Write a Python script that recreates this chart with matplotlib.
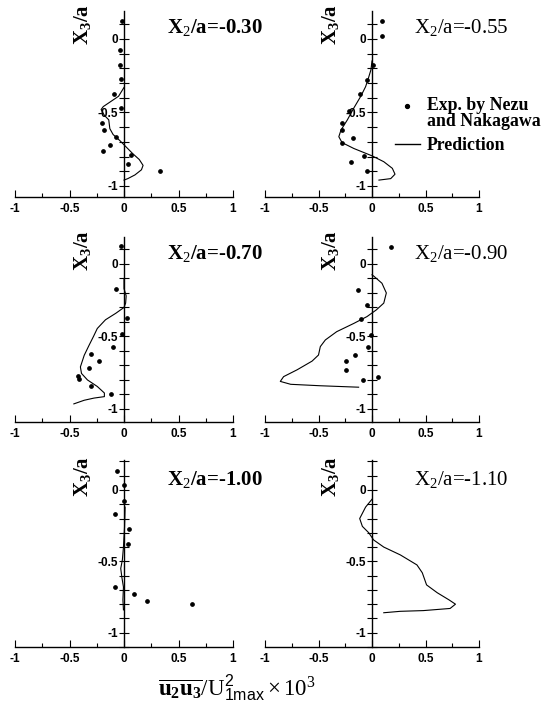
import numpy as np
import matplotlib
matplotlib.use('Agg')
from matplotlib import pyplot as plt
from matplotlib.ticker import MultipleLocator
from matplotlib.lines import Line2D

plt.rcParams['font.family'] = 'Liberation Serif'
plt.rcParams['mathtext.fontset'] = 'custom'
plt.rcParams['mathtext.rm'] = 'Liberation Serif'
plt.rcParams['mathtext.bf'] = 'Liberation Serif:bold'
plt.rcParams['mathtext.sf'] = 'Liberation Sans'
plt.rcParams['mathtext.it'] = 'Liberation Serif:italic'

titles = ['X$_2$/a=-0.30', 'X$_2$/a=-0.55', 'X$_2$/a=-0.70',
          'X$_2$/a=-0.90', 'X$_2$/a=-1.00', 'X$_2$/a=-1.10']

# measured points (Nezu & Nakagawa)
exp_x_030 = [-0.02, -0.04, -0.04, -0.03, -0.09, -0.03, -0.20, -0.18, -0.07, -0.13, -0.195, 0.06, 0.04, 0.33]
exp_y_030 = [0.125, -0.075, -0.18, -0.27, -0.375, -0.47, -0.57, -0.62, -0.67, -0.72, -0.76, -0.79, -0.85, -0.90]
exp_x_055 = [0.09, 0.09, 0.01, -0.045, -0.115, -0.215, -0.28, -0.28, -0.18, -0.28, -0.075, -0.20, -0.05]
exp_y_055 = [0.12, 0.02, -0.18, -0.28, -0.375, -0.49, -0.57, -0.62, -0.675, -0.71, -0.795, -0.84, -0.895]
exp_x_070 = [-0.03, -0.075, 0.03, -0.015, -0.10, -0.30, -0.23, -0.32, -0.42, -0.41, -0.30, -0.12]
exp_y_070 = [0.124, -0.175, -0.375, -0.48, -0.57, -0.62, -0.67, -0.72, -0.77, -0.795, -0.845, -0.90]
exp_x_090 = [0.18, -0.135, -0.047, -0.10, -0.01, -0.04, -0.156, -0.24, -0.24, 0.06, -0.084]
exp_y_090 = [0.115, -0.18, -0.28, -0.38, -0.49, -0.575, -0.63, -0.67, -0.73, -0.777, -0.80]
exp_x_100 = [-0.06, 0.00, 0.00, -0.085, 0.05, 0.035, -0.08, 0.09, 0.21, 0.62]
exp_y_100 = [0.135, 0.035, -0.075, -0.17, -0.275, -0.38, -0.68, -0.73, -0.78, -0.80]
exp_x_110 = []
exp_y_110 = []

# predicted profiles
pred_x_030 = [0.0, -0.05, -0.13, -0.19, -0.21, -0.18, -0.14, -0.13, -0.10, -0.04, 0.0, 0.08, 0.14, 0.175, 0.16, 0.10, 0.035, 0.0]
pred_y_030 = [-0.33, -0.39, -0.43, -0.46, -0.48, -0.52, -0.55, -0.61, -0.65, -0.69, -0.72, -0.78, -0.82, -0.86, -0.89, -0.925, -0.95, -0.96]
pred_x_055 = [0.0, -0.01, -0.035, -0.06, -0.105, -0.17, -0.23, -0.29, -0.31, -0.28, -0.17, 0.0, 0.11, 0.19, 0.215, 0.175, 0.065]
pred_y_055 = [-0.15, -0.21, -0.27, -0.325, -0.39, -0.47, -0.55, -0.62, -0.665, -0.705, -0.745, -0.795, -0.835, -0.88, -0.92, -0.95, -0.96]
pred_x_070 = [0.0, 0.0, 0.02, 0.015, 0.0, -0.075, -0.17, -0.245, -0.28, -0.32, -0.365, -0.40, -0.39, -0.335, -0.245, -0.18, -0.18, -0.275, -0.365, -0.46]
pred_y_070 = [-0.10, -0.17, -0.22, -0.27, -0.30, -0.34, -0.385, -0.445, -0.50, -0.56, -0.63, -0.71, -0.755, -0.80, -0.845, -0.89, -0.915, -0.925, -0.94, -0.965]
pred_x_090 = [0.0, 0.015, 0.093, 0.134, 0.11, 0.04, -0.047, -0.17, -0.33, -0.436, -0.483, -0.50, -0.56, -0.70, -0.826, -0.857, -0.76, -0.483, -0.125]
pred_y_090 = [-0.075, -0.083, -0.133, -0.20, -0.27, -0.317, -0.363, -0.41, -0.467, -0.524, -0.57, -0.628, -0.67, -0.73, -0.777, -0.81, -0.83, -0.84, -0.85]
pred_x_100 = [0.01, 0.005, -0.005, -0.015, -0.03, -0.02, -0.005, -0.01, -0.005]
pred_y_100 = [-0.12, -0.26, -0.40, -0.49, -0.55, -0.61, -0.68, -0.77, -0.84]
pred_x_110 = [0.0, -0.06, -0.115, -0.09, -0.03, 0.015, 0.11, 0.265, 0.42, 0.47, 0.51, 0.61, 0.72, 0.78, 0.73, 0.48, 0.265, 0.11]
pred_y_110 = [-0.065, -0.12, -0.20, -0.255, -0.30, -0.35, -0.40, -0.455, -0.525, -0.58, -0.665, -0.72, -0.77, -0.80, -0.83, -0.845, -0.85, -0.86]

exp_x = [exp_x_030, exp_x_055, exp_x_070, exp_x_090, exp_x_100, exp_x_110]
exp_y = [exp_y_030, exp_y_055, exp_y_070, exp_y_090, exp_y_100, exp_y_110]
pred_x = [pred_x_030, pred_x_055, pred_x_070, pred_x_090, pred_x_100, pred_x_110]
pred_y = [pred_y_030, pred_y_055, pred_y_070, pred_y_090, pred_y_100, pred_y_110]

W, H = 544, 702
fig = plt.figure(figsize=(W / 100, H / 100), dpi=100)

cols = [(15, 233), (265, 479)]
rows = [(11, 197, 0.19, -1.075), (237, 422, 0.186, -1.09), (460, 647, 0.21, -1.10)]

tick_font = dict(family='Liberation Sans', weight='bold', size=8.5)

for i in range(6):
    r, c = divmod(i, 2)
    x0, x1 = cols[c]
    top, bot, ytop, ybot = rows[r]
    ax = fig.add_axes([x0 / W, 1 - bot / H, (x1 - x0) / W, (bot - top) / H])
    ax.set_xlim(-1, 1)
    ax.set_ylim(ybot, ytop)
    ax.set_facecolor('none')

    ax.plot(pred_x[i], pred_y[i], color='black', linewidth=0.8)
    if exp_x[i]:
        ax.plot(exp_x[i], exp_y[i], 'o', color='black', markersize=2.4, linestyle='none')

    for s in ['top', 'right']:
        ax.spines[s].set_visible(False)
    ax.spines['left'].set_position(('data', 0))
    ax.spines['left'].set_linewidth(1.0)
    ax.spines['bottom'].set_linewidth(1.0)

    ax.set_xticks([-1, -0.5, 0, 0.5, 1])
    ax.set_xticklabels(['-1', '-0.5', '0', '0.5', '1'])
    ax.xaxis.set_minor_locator(MultipleLocator(0.25))
    ax.set_yticks([0, -0.5, -1])
    ax.set_yticklabels(['0', '-0.5', '-1'])
    ax.yaxis.set_minor_locator(MultipleLocator(0.1))
    ax.tick_params(axis='x', which='major', direction='in', length=5, width=0.8, pad=4)
    ax.tick_params(axis='x', which='minor', direction='in', length=3, width=0.8)
    ax.tick_params(axis='y', which='both', direction='inout', length=7, width=0.8, pad=1)
    for lab in ax.get_xticklabels() + ax.get_yticklabels():
        lab.set_fontproperties(tick_font)

    ax.text(-0.385, 0.095, r'X$_\mathbf{3}$/a', rotation=90, fontsize=15,
            fontweight='bold', ha='center', va='center')
    ax.text(0.395, 0.075, titles[i], fontsize=15,
            fontweight='bold' if c == 0 else 'normal', ha='left', va='center')

    if i == 1:
        handles = [Line2D([], [], marker='o', color='black', markersize=2.8, linestyle='none'),
                   Line2D([], [], color='black', linewidth=1.0)]
        leg = ax.legend(handles, ['Exp. by Nezu\nand Nakagawa', 'Prediction'],
                        loc='upper left', bbox_to_anchor=(395 / W, 1 - 97 / H),
                        bbox_transform=fig.transFigure, frameon=False,
                        prop=dict(family='Liberation Serif', weight='bold', size=12.8),
                        handlelength=1.4, handletextpad=0.38, labelspacing=0.4,
                        borderpad=0, borderaxespad=0)
        leg.get_texts()[0].set_linespacing(0.95)
        # dot sits level with the first line, as in the original
        mk = leg.legend_handles[0]
        mk.set_ydata(np.asarray(mk.get_ydata()) + 5.8)

fig.text(0.436, 0.021,
         r'$\overline{\mathbf{u_2u_3}}/\mathrm{U}^{\mathsf{2}}_{\mathsf{1max}}\times10^{3}$',
         fontsize=16.5, ha='center', va='center')

fig.savefig('out.png', dpi=100)
